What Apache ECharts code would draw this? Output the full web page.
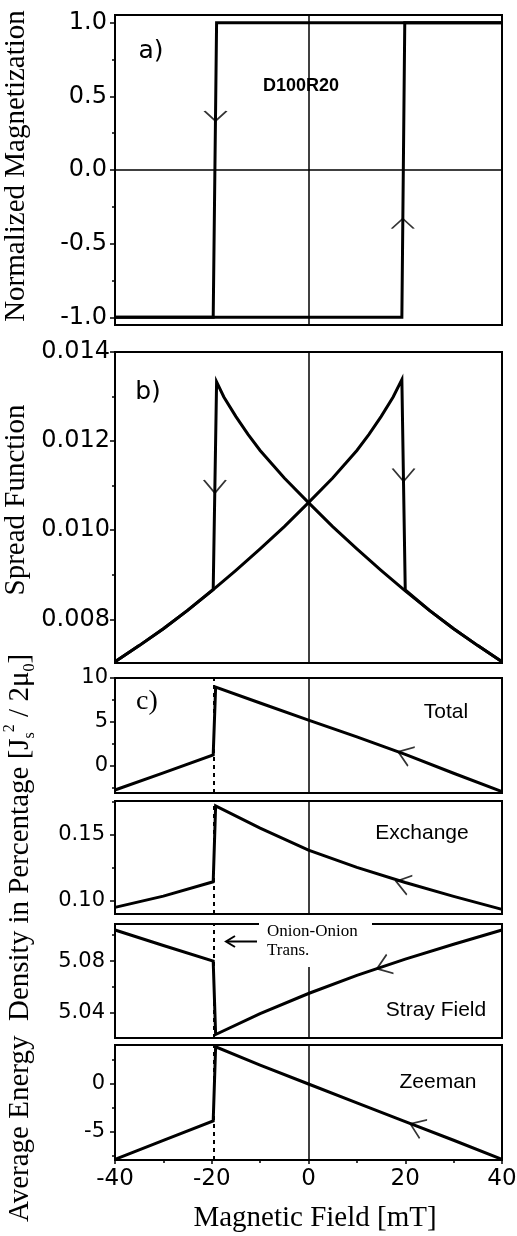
<!DOCTYPE html>
<html>
<head>
<meta charset="utf-8">
<script src="https://cdn.jsdelivr.net/npm/echarts@6/dist/echarts.min.js"></script>
<style>
html,body{margin:0;padding:0;background:#fff;}
#chart{width:517px;height:1236px;}
</style>
</head>
<body>
<div id="chart"></div>
<script>
// ---------- data ----------
const xTicks = [-40, -20, 0, 20, 40];

// a) hysteresis loop
const aDownX = [40, -19.0, -19.7, -40];
const aDownY = [1, 1, -1, -1];
const aUpX = [-40, 19.3, 19.9, 40];
const aUpY = [-1, -1, 1, 1];
const aTicks = [-1, -0.5, 0, 0.5, 1];
const aMinor = [-0.75, -0.25, 0.25, 0.75];

// b) spread function
const bUpX = [-40, -35, -30, -25, -20, -15, -10, -5, 0, 5, 10, 12.5, 15, 17.5, 19.3, 20.0, 25, 30, 35, 40];
const bUpY = [0.00705, 0.00741, 0.00779, 0.00820, 0.00864, 0.00910, 0.00958, 0.01008, 0.01062, 0.01117, 0.01179, 0.01215, 0.01255, 0.01299, 0.01338, 0.00866, 0.00820, 0.00779, 0.00741, 0.00705];
const bDownX = [40, 35, 30, 25, 20, 15, 10, 5, 0, -5, -10, -12.5, -15, -17.5, -19.0, -19.7, -25, -30, -35, -40];
const bDownY = [0.00705, 0.00741, 0.00779, 0.00820, 0.00864, 0.00910, 0.00958, 0.01008, 0.01062, 0.01117, 0.01179, 0.01215, 0.01255, 0.01299, 0.01333, 0.00867, 0.00820, 0.00779, 0.00741, 0.00705];
const bTicks = [0.008, 0.010, 0.012, 0.014];
const bMinor = [0.009, 0.011, 0.013];

// c) energy densities (field sweeping down)
const cX = [40, 30, 20, 10, 0, -10, -19.2, -19.7, -30, -40];
const totalY = [-2.95, -0.85, 1.3, 3.3, 5.2, 7.15, 8.96, 1.24, -0.8, -2.76];
const exchY = [0.0935, 0.1033, 0.1138, 0.1252, 0.1382, 0.1548, 0.1716, 0.1143, 0.1035, 0.0950];
const strayY = [5.104, 5.093, 5.0815, 5.069, 5.055, 5.0395, 5.0234, 5.080, 5.092, 5.104];
const zeeY = [-7.9, -5.9, -3.95, -1.98, 0, 1.98, 3.9, -3.88, -5.92, -7.9];
const totTicks = [0, 5, 10], totMinor = [-2.5, 2.5, 7.5];
const excTicks = [0.10, 0.15], excMinor = [0.125, 0.175];
const strTicks = [5.04, 5.08], strMinor = [5.06, 5.10];
const zeeTicks = [-5, 0], zeeMinor = [-7.5, -2.5, 2.5];

// arrowheads: [x, y, rotation]
const arrowsA = [[-19.22, 0.367, 90], [19.49, -0.364, -90]];
const arrowsB = [[-19.35, 0.01098, 90], [19.65, 0.01124, 90]];
const arrowTot = [[19.9, 1.32, -20]];
const arrowExc = [[19.5, 0.1132, -16]];
const arrowStr = [[15.5, 5.076, 20]];
const arrowZee = [[22.4, -4.45, -22]];

const jumpField = -19.5;

// ---------- layout ----------
const grids = [
  {top: 15, height: 310},
  {top: 352, height: 311},
  {top: 678, height: 115},
  {top: 801, height: 113},
  {top: 924, height: 114},
  {top: 1045, height: 115}
];
const yRanges = [[-1.052, 1.052], [0.00702, 0.014], [-3.1, 10], [0.09, 0.1753], [5.0207, 5.1086], [-7.97, 4.09]];
const yMajor = [aTicks, bTicks, totTicks, excTicks, strTicks, zeeTicks];
const yMinorT = [aMinor, bMinor, totMinor, excMinor, strMinor, zeeMinor];
const yFmt = [
  v => v.toFixed(1),
  v => v.toFixed(3),
  v => String(v),
  v => v.toFixed(2),
  v => v.toFixed(2),
  v => String(v)
];
const yFont = [24, 24, 21, 21, 21, 21];
const yMargin = [8, 5, 7, 10, 10, 10];

const zip = (xs, ys) => xs.map((x, i) => [x, ys[i]]);

const gridOpt = grids.map(g => ({left: 115, right: 15, top: g.top, height: g.height, show: true,
  borderColor: '#000', borderWidth: 2, backgroundColor: 'transparent',
  containLabel: false, outerBoundsMode: 'none'}));

const xAxes = grids.map((g, i) => {
  const bottom = i === grids.length - 1;
  return {
    type: 'value', gridIndex: i, min: -40, max: 40, interval: 20,
    axisLine: {show: false, onZero: false},
    splitLine: {show: false},
    axisTick: {show: bottom, length: 4, lineStyle: {color: '#000', width: 1.5}},
    minorTick: {show: bottom, splitNumber: 2, length: 3, lineStyle: {color: '#000', width: 1.5}},
    axisLabel: {show: bottom, margin: 8, fontSize: 23, fontFamily: 'DejaVu Sans', color: '#000',
      customValues: xTicks, formatter: v => String(v)}
  };
});

const yAxes = [];
grids.forEach((g, i) => {
  yAxes.push({
    type: 'value', gridIndex: i, min: yRanges[i][0], max: yRanges[i][1], position: 'left',
    axisLine: {show: false, onZero: false},
    splitLine: {show: false},
    axisTick: {show: true, customValues: yMajor[i], length: 5, lineStyle: {color: '#000', width: 1.5}},
    axisLabel: {show: true, customValues: yMajor[i], formatter: yFmt[i], margin: yMargin[i],
      fontSize: yFont[i], fontFamily: 'DejaVu Sans', color: '#000'}
  });
});
grids.forEach((g, i) => {
  yAxes.push({
    type: 'value', gridIndex: i, min: yRanges[i][0], max: yRanges[i][1], position: 'left',
    axisLine: {show: false, onZero: false},
    splitLine: {show: false},
    axisTick: {show: true, customValues: yMinorT[i], length: 3, lineStyle: {color: '#000', width: 1.5}},
    axisLabel: {show: false}
  });
});

const lineStyle = {color: '#000', width: 3, join: 'miter', cap: 'butt'};
function lineSeries(i, data, markData) {
  const s = {
    type: 'line', xAxisIndex: i, yAxisIndex: i, data: data, symbol: 'none', showSymbol: false,
    lineStyle: lineStyle, clip: false, animation: false, silent: true, z: 3
  };
  if (markData) {
    s.markLine = {silent: true, symbol: ['none', 'none'], label: {show: false}, animation: false,
      lineStyle: {color: '#000', width: 1.5, type: 'solid'}, data: markData};
  }
  return s;
}
function arrowSeries(i, arr, size) {
  return {
    type: 'scatter', xAxisIndex: i, yAxisIndex: i,
    data: arr.map(a => ({value: [a[0], a[1]], symbolRotate: a[2]})),
    symbol: 'path://M10,0 L0,5 L10,10', symbolSize: size, symbolKeepAspect: false,
    itemStyle: {color: 'none', borderColor: '#000', borderWidth: 1.6},
    silent: true, animation: false, z: 4, clip: false
  };
}
const dashItem = {xAxis: jumpField, lineStyle: {type: [4, 4], width: 2, color: '#000'}};

const series = [
  lineSeries(0, zip(aDownX, aDownY), [{xAxis: 0}, {yAxis: 0}]),
  lineSeries(0, zip(aUpX, aUpY)),
  arrowSeries(0, arrowsA, [10, 22]),
  lineSeries(1, zip(bUpX, bUpY), [{xAxis: 0}]),
  lineSeries(1, zip(bDownX, bDownY)),
  arrowSeries(1, arrowsB, [13, 22]),
  lineSeries(2, zip(cX, totalY), [{xAxis: 0}, dashItem]),
  arrowSeries(2, arrowTot, [14, 20]),
  lineSeries(3, zip(cX, exchY), [{xAxis: 0}, dashItem]),
  arrowSeries(3, arrowExc, [14, 20]),
  lineSeries(4, zip(cX, strayY), [{xAxis: 0}, dashItem]),
  arrowSeries(4, arrowStr, [14, 20]),
  lineSeries(5, zip(cX, zeeY), [{xAxis: 0}, dashItem]),
  arrowSeries(5, arrowZee, [14, 20])
];

function txt(text, x, y, size, family, opts) {
  opts = opts || {};
  return {
    type: 'text', x: x, y: y, rotation: opts.rotation || 0, z: 100, silent: true,
    style: Object.assign({
      text: text, fontSize: size, fontFamily: family, fontWeight: opts.weight || 'normal', fill: '#000',
      align: opts.align || 'center', verticalAlign: 'middle',
      textAlign: opts.align || 'center', textVerticalAlign: 'middle'
    }, opts.style || {})
  };
}
const serif = 'Liberation Serif';
const sans = 'Liberation Sans';

const graphic = [
  txt('Normalized Magnetization', 16, 166, 29, serif, {rotation: Math.PI / 2}),
  txt('Spread Function', 16, 500, 29, serif, {rotation: Math.PI / 2}),
  txt('Average Energy  Density in Percentage [J{sub|s}{sup|2} / 2μ{sub|0}]', 20, 938, 29, serif, {
    rotation: Math.PI / 2,
    style: {rich: {
      sub: {fontSize: 16, fontFamily: serif, verticalAlign: 'bottom', lineHeight: 16},
      sup: {fontSize: 16, fontFamily: serif, verticalAlign: 'top', lineHeight: 16}
    }, lineHeight: 36}
  }),
  txt('Magnetic Field [mT]', 315, 1218, 29, serif),
  txt('a)', 151, 51, 25, 'DejaVu Sans'),
  txt('D100R20', 301, 86, 18, sans, {weight: 'bold'}),
  txt('b)', 148, 392, 25, 'DejaVu Sans'),
  txt('c)', 147, 702, 28, serif),
  txt('Total', 446, 712, 21, sans),
  txt('Exchange', 422, 833, 21, sans),
  txt('Stray Field', 436, 1010, 21, sans),
  txt('Zeeman', 438, 1082, 21, sans),
  {type: 'rect', z: 99, silent: true, shape: {x: 259, y: 919, width: 113, height: 48}, style: {fill: '#fff'}},
  txt('Onion-Onion', 267, 932, 17, serif, {align: 'left'}),
  txt('Trans.', 267, 951, 17, serif, {align: 'left'}),
  {type: 'line', z: 100, silent: true, shape: {x1: 227, y1: 941.5, x2: 257, y2: 941.5}, style: {stroke: '#000', lineWidth: 2}},
  {type: 'polyline', z: 100, silent: true, shape: {points: [[235, 936], [226, 941.5], [235, 947]]}, style: {stroke: '#000', lineWidth: 2, fill: 'none'}}
];

const chart = echarts.init(document.getElementById('chart'), null, {renderer: 'canvas'});
chart.setOption({
  animation: false,
  backgroundColor: '#fff',
  grid: gridOpt,
  xAxis: xAxes,
  yAxis: yAxes,
  series: series,
  graphic: graphic
});
</script>
</body>
</html>
